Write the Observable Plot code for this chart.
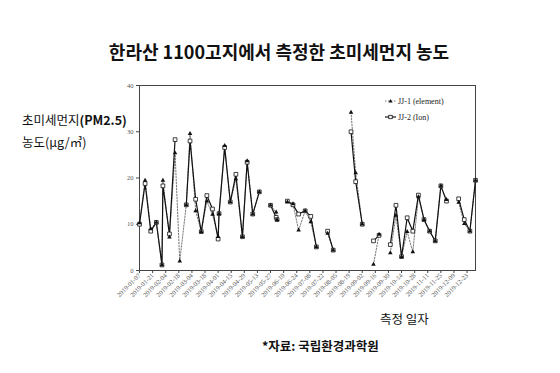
<!DOCTYPE html>
<html>
<head>
<meta charset="utf-8">
<script src="https://cdn.jsdelivr.net/npm/d3@7"></script>
<script src="https://cdn.jsdelivr.net/npm/@observablehq/plot@0.6"></script>
<style>
  html, body { margin: 0; padding: 0; background: #fff; }
  #wrap { position: relative; width: 560px; height: 373px; background: #fff; overflow: hidden; }
  #chart { position: absolute; left: 0; top: 0; }
  .t { position: absolute; white-space: nowrap; font-family: "Noto Sans CJK KR", "Noto Sans", sans-serif; color: #111; }
  #legend { position: absolute; left: 385px; top: 93px; font-family: "Liberation Serif", serif; font-size: 8px; color: #222; }
  #legend div { display: flex; align-items: center; height: 16px; }
  #legend svg { margin-right: 2px; }
</style>
</head>
<body>
<div id="wrap">
  <div id="chart"></div>
  <div class="t" style="left:0;width:558px;text-align:center;top:38px;font-size:18px;font-weight:700;">한라산 1100고지에서 측정한 초미세먼지 농도</div>
  <div class="t" style="left:22px;top:110px;font-size:12.5px;">초미세먼지<b>(PM2.5)</b></div>
  <div class="t" style="left:22px;top:132px;font-size:12.5px;">농도(μg/㎥)</div>
  <div class="t" style="left:380px;top:309px;font-size:12.5px;">측정 일자</div>
  <div class="t" style="left:262px;top:336px;font-size:12.5px;font-weight:700;">*자료: 국립환경과학원</div>
  <div id="legend">
    <div><svg width="11" height="6"><line x1="0" y1="3" x2="11" y2="3" stroke="#555" stroke-width="0.8" stroke-dasharray="1.5,1.5"/><path d="M5.5,1 L7.5,4.5 L3.5,4.5 Z" fill="#111"/></svg>JJ-1 (element)</div>
    <div><svg width="11" height="6"><line x1="0" y1="3" x2="11" y2="3" stroke="#111" stroke-width="1.2"/><rect x="3.8" y="1.3" width="3.4" height="3.4" fill="#fff" stroke="#111" stroke-width="0.8"/></svg>JJ-2 (Ion)</div>
  </div>
</div>
<script>
const dates = [
  "2019-01-07","2019-01-13","2019-01-19","2019-01-25","2019-01-31","2019-02-01","2019-02-08","2019-02-14",
  "2019-02-19","2019-02-26","2019-03-02","2019-03-08","2019-03-14","2019-03-20","2019-03-26","2019-04-01",
  "2019-04-02","2019-04-08","2019-04-14","2019-04-20","2019-04-27","2019-05-02","2019-05-08","2019-05-15",
  "2019-05-21",
  "2019-05-27","2019-06-02","2019-06-03",
  "2019-06-08",
  "2019-06-14","2019-06-20","2019-06-26","2019-07-03","2019-07-09","2019-07-15",
  "2019-07-21",
  "2019-07-27","2019-08-02",
  "2019-08-10",
  "2019-08-21","2019-08-26","2019-09-02",
  "2019-09-08",
  "2019-09-14","2019-09-20",
  "2019-09-26",
  "2019-10-02","2019-10-08","2019-10-14","2019-10-20","2019-10-26","2019-11-01","2019-11-07","2019-11-13",
  "2019-11-19","2019-11-25","2019-12-01",
  "2019-12-07",
  "2019-12-14","2019-12-20","2019-12-26","2020-01-01"
];
const jj1Element = [
  10.3,19.5,9.0,10.4,1.2,19.5,7.2,25.4,
  2.0,14.2,29.6,12.9,8.4,15.0,12.1,7.3,
  12.3,27.0,14.8,19.8,7.3,23.7,12.2,17.0,
  null,
  14.1,12.6,11.0,
  null,
  14.8,14.4,8.7,12.9,10.5,5.1,
  null,
  8.0,4.4,
  null,
  34.2,21.1,10.0,
  null,
  1.3,7.8,
  null,
  3.8,11.9,3.0,8.4,4.0,15.9,11.0,8.5,
  6.4,18.3,15.3,
  null,
  14.7,10.1,8.5,19.5
];
const jj2Ion = [
  10.0,18.8,8.5,10.4,1.2,18.3,7.9,28.3,
  null,14.2,28.0,15.4,8.4,16.2,13.3,6.8,
  12.3,26.6,14.8,20.8,7.3,23.4,12.2,17.0,
  null,
  14.1,11.5,11.0,
  null,
  15.0,14.2,12.2,12.9,11.7,5.1,
  null,
  8.5,4.4,
  null,
  30.0,19.2,10.0,
  null,
  6.4,7.6,
  null,
  5.6,14.1,3.0,11.4,8.5,16.3,11.0,8.5,
  6.4,18.3,15.0,
  null,
  15.5,11.0,8.5,19.5
];
const xTicks = [
  "2019-01-07","2019-01-21","2019-02-04","2019-02-18","2019-03-04","2019-03-18","2019-04-01","2019-04-15",
  "2019-04-29","2019-05-13","2019-05-27","2019-06-10","2019-06-24","2019-07-08","2019-07-22","2019-08-05",
  "2019-08-19","2019-09-02","2019-09-16","2019-09-30","2019-10-14","2019-10-28","2019-11-11","2019-11-25",
  "2019-12-09","2019-12-23"
];
const yTicks = [0, 10, 20, 30, 40];
const xDomain = ["2019-01-07", "2020-01-01"];
const yDomain = [0, 40];

const data = dates.map((d, i) => ({date: new Date(d), jj1: jj1Element[i], jj2: jj2Ion[i]}));
const fmt = d3.utcFormat("%Y-%m-%d");

const chart = Plot.plot({
  width: 560,
  height: 373,
  marginLeft: 139,
  marginRight: 85,
  marginTop: 85,
  marginBottom: 103,
  style: {fontFamily: "Liberation Serif, serif", fontSize: "6.5px", color: "#555", background: "transparent", overflow: "visible"},
  x: {type: "utc", domain: xDomain.map(d => new Date(d))},
  y: {domain: yDomain},
  marks: [
    Plot.axisX({ticks: xTicks.map(d => new Date(d)), tickFormat: fmt, tickRotate: -45, tickSize: 3, tickPadding: 1, label: null, stroke: "#444"}),
    Plot.axisY({ticks: yTicks, tickSize: 3, tickPadding: 3, label: null, stroke: "#444"}),
    Plot.frame({stroke: "#444", strokeWidth: 1}),
    Plot.lineY(data, {x: "date", y: "jj1", stroke: "#555", strokeWidth: 0.8, strokeDasharray: "1.5,1.5"}),
    Plot.lineY(data, {x: "date", y: "jj2", stroke: "#111", strokeWidth: 1.2}),
    Plot.dot(data, {x: "date", y: "jj2", symbol: "square", r: 2.1, fill: "#fff", stroke: "#111", strokeWidth: 0.8}),
    Plot.dot(data, {x: "date", y: "jj1", symbol: "triangle", r: 1.7, fill: "#111", stroke: "none"})
  ]
});
document.getElementById("chart").appendChild(chart);
</script>
</body>
</html>
